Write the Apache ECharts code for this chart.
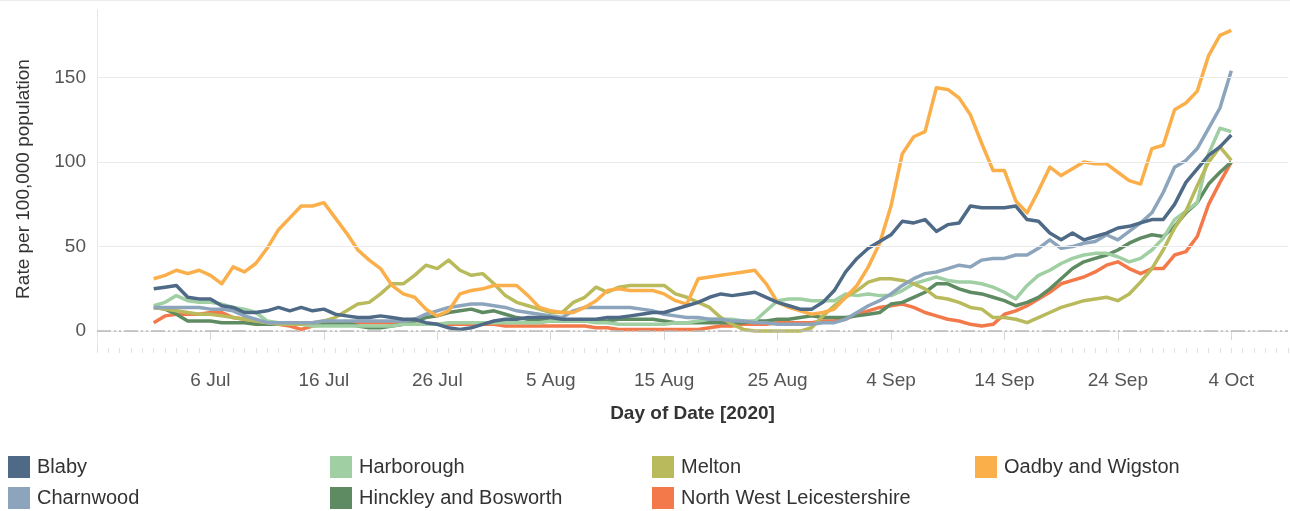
<!DOCTYPE html>
<html><head><meta charset="utf-8">
<script src="https://cdn.jsdelivr.net/npm/echarts@6/dist/echarts.min.js"></script>
<style>html,body{margin:0;padding:0;background:#fff}#c{width:1290px;height:511px}</style>
</head><body><div id="c"></div>
<script>
// ---------- DATA ----------
const axisStart = '2020-06-26';   // first day on the x axis
const axisDays = 106;             // 26 Jun .. 9 Oct
const dataStart = '2020-07-01';   // first day with data
const tickLabels = ['6 Jul','16 Jul','26 Jul','5 Aug','15 Aug','25 Aug','4 Sep','14 Sep','24 Sep','4 Oct'];
const yTicks = [0, 50, 100, 150];

const blaby = [25,26,27,20,19,19,15,14,11,11, 12,14,12,14,12,13,10,9,8,8, 9,8,7,7,5,4,2,1,2,4, 6,7,7,8,8,8,7,7,7,7, 8,8,9,10,11,11,13,15,17,20, 22,21,22,23,20,17,15,13,13,17, 24,35,43,49,53,57,65,64,66,59, 63,64,74,73,73,73,74,66,65,58, 54,58,54,56,58,61,62,64,66,66, 75,88,96,104,109,116];
const charnwood = [14,14,14,14,14,13,13,12,9,7, 5,5,5,5,5,6,6,6,6,6, 6,6,6,7,10,12,14,15,16,16, 15,14,12,11,10,9,8,12,14,14, 14,14,14,13,12,10,9,8,8,7, 7,6,6,5,5,4,4,4,4,5, 5,7,11,15,18,22,27,31,34,35, 37,39,38,42,43,43,45,45,49,54, 49,50,52,53,57,54,59,64,70,82, 97,101,108,120,132,154];
const harborough = [15,17,21,18,17,17,16,14,13,11, 6,5,4,4,3,3,3,3,3,3, 3,3,4,4,4,4,5,5,5,5, 5,5,5,5,5,6,6,6,6,5, 5,4,4,4,4,4,5,5,6,7, 7,7,6,6,12,18,19,19,18,18, 18,22,21,22,21,21,24,28,30,32, 30,29,29,28,26,23,19,27,33,36, 40,43,45,46,46,44,41,43,48,55, 66,71,76,105,120,118];
const hinckley = [14,13,10,6,6,6,5,5,5,4, 4,4,4,4,4,4,4,5,3,2, 2,3,4,6,8,9,11,12,13,11, 12,10,8,7,7,6,6,6,6,6, 6,7,7,7,7,6,5,5,5,5, 5,5,5,6,6,7,7,8,9,8, 8,8,9,10,11,16,17,20,23,28, 28,25,23,22,20,18,15,17,20,25, 31,37,41,43,45,48,52,55,57,56, 62,70,76,87,94,100];
const melton = [14,13,12,11,10,10,9,8,7,6, 5,4,4,4,5,6,8,12,16,17, 22,28,28,33,39,37,42,36,33,34, 28,21,17,15,13,11,11,17,20,26, 23,26,27,27,27,27,22,20,17,14, 8,4,1,0,0,0,0,0,2,9, 15,20,24,29,31,31,30,28,25,20, 19,17,14,13,8,8,7,5,8,11, 14,16,18,19,20,18,22,29,37,48, 61,71,86,100,109,101];
const nwLeics = [5,9,10,10,10,11,11,8,7,6, 5,4,3,1,3,4,5,5,5,5, 5,5,5,4,4,4,4,4,4,4, 4,3,3,3,3,3,3,3,3,2, 2,1,1,1,1,1,1,1,1,2, 3,3,4,4,4,5,5,5,5,6, 6,7,10,12,14,15,16,14,11,9, 7,6,4,3,4,10,12,15,19,23, 28,30,32,35,39,41,37,34,37,37, 45,47,56,75,88,100];
const oadby = [31,33,36,34,36,33,28,38,35,40, 49,60,67,74,74,76,67,58,48,42, 37,27,22,20,13,9,12,22,24,25, 27,27,27,21,14,12,11,11,14,18, 24,25,24,24,24,22,18,16,31,32, 33,34,35,36,28,17,14,12,10,11, 13,20,27,38,52,74,105,115,118,144, 143,138,128,111,95,95,77,70,83,97, 92,96,100,99,99,94,89,87,108,110, 131,135,142,163,175,178];

const seriesNames = ['Blaby','Charnwood','Harborough','Hinckley and Bosworth','Melton','North West Leicestershire','Oadby and Wigston'];
const seriesValues = [blaby, charnwood, harborough, hinckley, melton, nwLeics, oadby];
const seriesColors = ['#4e6a86','#8ca5bd','#9fcfa3','#5e8b61','#b9ba5c','#f4794a','#fbaf4a'];
const drawOrder = [5, 3, 2, 4, 1, 6, 0];
// legend grid: [column, row] per series
const legendCell = [[0,0],[0,1],[1,0],[1,1],[2,0],[2,1],[3,0]];

// ---------- BUILD ----------
const MONTHS = ['Jan','Feb','Mar','Apr','May','Jun','Jul','Aug','Sep','Oct','Nov','Dec'];
const t0 = Date.parse(axisStart + 'T00:00:00Z');
const categories = [];
for (let i = 0; i < axisDays; i++) {
  const d = new Date(t0 + i * 86400000);
  categories.push(d.getUTCDate() + ' ' + MONTHS[d.getUTCMonth()]);
}
const offset = Math.round((Date.parse(dataStart + 'T00:00:00Z') - t0) / 86400000);
function pad(arr) {
  const out = new Array(axisDays).fill(null);
  arr.forEach((v, i) => { out[offset + i] = v; });
  return out;
}
const FONT = '"Liberation Sans", Arial, sans-serif';

const series = drawOrder.map(k => ({
  name: seriesNames[k],
  type: 'line',
  data: pad(seriesValues[k]),
  xAxisIndex: 0,
  showSymbol: false,
  symbol: 'none',
  lineStyle: { width: 3.5, color: seriesColors[k], join: 'round' },
  itemStyle: { color: seriesColors[k] },
  emphasis: { disabled: true },
  z: 3
}));
series.push({
  type: 'line', data: [], silent: true, z: 1,
  markLine: {
    silent: true, symbol: 'none', label: { show: false },
    data: yTicks.map(v => ({
      yAxis: v,
      lineStyle: v === 0
        ? { color: '#b9b9b9', width: 1.5, type: [14, 3, 2, 3, 2, 3] }
        : { color: '#ebebeb', width: 1.2, type: 'solid' }
    }))
  }
});

const colX = [8, 330, 652, 975];
const rowY = [456, 487];
const legends = seriesNames.map((name, k) => ({
  orient: 'horizontal', left: colX[legendCell[k][0]], top: rowY[legendCell[k][1]],
  padding: 0, itemWidth: 22, itemHeight: 22, icon: 'rect',
  selectedMode: false,
  textStyle: { fontFamily: FONT, fontSize: 20, color: '#333', padding: [0, 0, 0, 2] },
  data: [{ name: name, itemStyle: { color: seriesColors[k] } }]
}));

const chart = echarts.init(document.getElementById('c'), null, { renderer: 'canvas' });
chart.setOption({
  animation: false,
  backgroundColor: '#fff',
  color: seriesColors,
  grid: { left: 97, right: 2, top: 10, bottom: 163, containLabel: false },
  legend: legends,
  xAxis: [{
    type: 'category', data: categories, boundaryGap: false,
    axisLine: { show: true, lineStyle: { color: '#e6e6e6', width: 1 } },
    axisTick: { show: true, length: 9, lineStyle: { color: '#d8d8d8' },
      interval: (i, v) => tickLabels.includes(v) },
    axisLabel: { show: true, margin: 23, fontFamily: FONT, fontSize: 19, color: '#555',
      interval: (i, v) => tickLabels.includes(v) },
    splitLine: { show: false },
    name: 'Day of Date [2020]', nameLocation: 'middle', nameGap: 56,
    nameTextStyle: { fontFamily: FONT, fontSize: 19, fontWeight: 'bold', color: '#333' }
  }, {
    type: 'category', data: categories, boundaryGap: false, position: 'bottom',
    axisLine: { show: false },
    axisTick: { show: true, length: 5, interval: 0, lineStyle: { color: '#e0e0e0' } },
    axisLabel: { show: false }, splitLine: { show: false }
  }],
  yAxis: {
    type: 'value', min: -10, max: 190, interval: 10,
    axisLine: { show: true, lineStyle: { color: '#e6e6e6' } },
    axisTick: { show: false },
    splitLine: { show: false },
    axisLabel: { margin: 11, fontFamily: FONT, fontSize: 19, color: '#555',
      formatter: v => (yTicks.includes(v) ? String(v) : '') },
    name: 'Rate per 100,000 population', nameLocation: 'middle', nameGap: 64,
    nameRotate: 90,
    nameTextStyle: { fontFamily: FONT, fontSize: 19, color: '#333' }
  },
  graphic: [{
    type: 'rect', shape: { x: 0, y: 0, width: 1290, height: 1 },
    style: { fill: '#ececec' }, silent: true
  }],
  series: series
});
</script></body></html>
